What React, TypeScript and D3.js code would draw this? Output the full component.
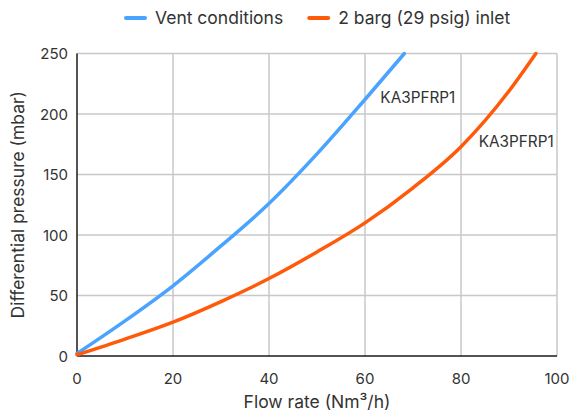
import { useEffect, useRef } from "react";
import * as d3 from "d3";

// Flow rate (Nm3/h) vs differential pressure (mbar)
const VENT_FLOW = [0, 10, 20, 30, 40, 50, 60, 68.2];
const VENT_DP = [2, 29, 58, 91, 126, 167, 212, 250];

const INLET_FLOW = [0, 10, 20, 30, 40, 50, 60, 70, 80, 90, 95.6];
const INLET_DP = [1, 14, 28, 45, 64, 86, 110, 139, 173, 219, 250];

const X_TICKS = [0, 20, 40, 60, 80, 100];
const Y_TICKS = [0, 50, 100, 150, 200, 250];

const SERIES = [
  { label: "Vent conditions", color: "#4aa3ff", flow: VENT_FLOW, dp: VENT_DP, tag: "KA3PFRP1", tagAt: [63.2, 209] },
  { label: "2 barg (29 psig) inlet", color: "#ff5a0a", flow: INLET_FLOW, dp: INLET_DP, tag: "KA3PFRP1", tagAt: [83.7, 173] },
];

const FONT = "Inter, 'Noto Sans', sans-serif";
const TEXT = "#333";

export default function App() {
  const svgRef = useRef<SVGSVGElement | null>(null);

  useEffect(() => {
    if (!svgRef.current) return;
    const W = 571;
    const H = 414;
    const m = { top: 53.5, right: 14, bottom: 58, left: 77 };
    const iW = W - m.left - m.right;
    const iH = H - m.top - m.bottom;

    const svg = d3.select(svgRef.current);
    svg.selectAll("*").remove();
    svg.attr("width", W).attr("height", H).style("font-family", FONT);

    const g = svg.append("g").attr("transform", `translate(${m.left},${m.top})`);

    const x = d3.scaleLinear().domain([0, 100]).range([0, iW]);
    const y = d3.scaleLinear().domain([0, 250]).range([iH, 0]);

    // Grid
    g.append("g")
      .selectAll("line")
      .data(X_TICKS.slice(1))
      .join("line")
      .attr("x1", (d) => x(d)).attr("x2", (d) => x(d))
      .attr("y1", 0).attr("y2", iH)
      .attr("stroke", "#c8c8c8").attr("stroke-width", 1.5);
    g.append("g")
      .selectAll("line")
      .data(Y_TICKS.slice(1))
      .join("line")
      .attr("x1", 0).attr("x2", iW)
      .attr("y1", (d) => y(d)).attr("y2", (d) => y(d))
      .attr("stroke", "#c8c8c8").attr("stroke-width", 1.5);

    // Axes
    g.append("line").attr("x1", 0).attr("x2", 0).attr("y1", 0).attr("y2", iH)
      .attr("stroke", "#1a1a1a").attr("stroke-width", 1.5);
    g.append("line").attr("x1", 0).attr("x2", iW).attr("y1", iH).attr("y2", iH)
      .attr("stroke", "#1a1a1a").attr("stroke-width", 1.5);

    g.append("g")
      .selectAll("text")
      .data(X_TICKS)
      .join("text")
      .attr("x", (d) => x(d)).attr("y", iH + 28)
      .attr("text-anchor", "middle").attr("font-size", 15).attr("fill", TEXT)
      .text((d) => d);
    g.append("g")
      .selectAll("text")
      .data(Y_TICKS)
      .join("text")
      .attr("x", -9).attr("y", (d) => y(d) + 5.5)
      .attr("text-anchor", "end").attr("font-size", 15).attr("fill", TEXT)
      .text((d) => d);

    // Lines
    SERIES.forEach((s) => {
      const pts = s.flow.map((f, i) => [f, s.dp[i]] as [number, number]);
      const line = d3.line<[number, number]>()
        .x((d) => x(d[0]))
        .y((d) => y(d[1]))
        .curve(d3.curveMonotoneX);
      g.append("path")
        .datum(pts)
        .attr("fill", "none")
        .attr("stroke", s.color)
        .attr("stroke-width", 3.5)
        .attr("stroke-linecap", "round")
        .attr("d", line);

      g.append("text")
        .attr("x", x(s.tagAt[0])).attr("y", y(s.tagAt[1]))
        .attr("font-size", 15.3).attr("fill", TEXT)
        .text(s.tag);
    });

    // Legend
    const legend = svg.append("g").attr("transform", "translate(126,18)");
    let lx = 0;
    SERIES.forEach((s) => {
      legend.append("line")
        .attr("x1", lx).attr("x2", lx + 19).attr("y1", 0).attr("y2", 0)
        .attr("stroke", s.color).attr("stroke-width", 4).attr("stroke-linecap", "round");
      const t = legend.append("text")
        .attr("x", lx + 29).attr("y", 6)
        .attr("font-size", 17.5).attr("fill", TEXT)
        .text(s.label);
      const w = (t.node() as SVGTextElement).getComputedTextLength();
      lx += 29 + w + 26;
    });

    // Axis titles
    svg.append("text")
      .attr("x", m.left + iW / 2).attr("y", H - 6)
      .attr("text-anchor", "middle").attr("font-size", 17.5).attr("fill", TEXT)
      .text("Flow rate (Nm³/h)");
    svg.append("text")
      .attr("transform", "rotate(-90)")
      .attr("x", -(m.top + iH / 2)).attr("y", 24)
      .attr("text-anchor", "middle").attr("font-size", 17.5).attr("fill", TEXT)
      .text("Differential pressure (mbar)");
  }, []);

  return (
    <div style={{ position: "absolute", left: 0, top: 0 }}>
      <svg ref={svgRef} style={{ display: "block" }} />
    </div>
  );
}
